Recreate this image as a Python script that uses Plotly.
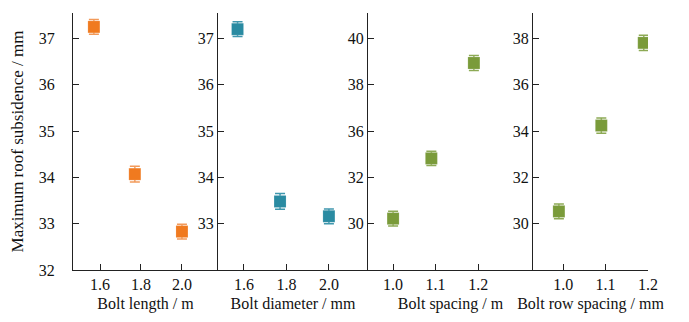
import plotly.graph_objects as go

# Bolt length panel
length_x = [1.57, 1.77, 2.0]
length_y = [37.25, 34.07, 32.83]
length_err = [0.16, 0.17, 0.16]

# Bolt diameter panel
diam_x = [1.57, 1.77, 2.0]
diam_y = [37.20, 33.48, 33.16]
diam_err = [0.16, 0.17, 0.16]

# Bolt spacing panel
spacing_x = [1.0, 1.09, 1.19]
spacing_y = [30.22, 32.82, 36.94]
spacing_err = [0.32, 0.31, 0.32]

# Bolt row spacing panel
row_x = [0.99, 1.09, 1.19]
row_y = [30.53, 34.24, 37.81]
row_err = [0.32, 0.33, 0.33]

# Tick labels
ticks_a = [32, 33, 34, 35, 36, 37]
ticks_b = [33, 34, 35, 36, 37]
ticks_c = [30, 32, 34, 36, 38]
ticktext_spacing = ["30", "32", "36", "38", "40"]
ticktext_row = ["30", "32", "34", "36", "38"]
xt_len = [1.6, 1.8, 2.0]
xt_sp = [1.0, 1.1, 1.2]

ORANGE = "#F07A1F"
ORANGE_E = "#F29A5A"
TEAL = "#2A8BA2"
TEAL_E = "#3F97AE"
GREEN = "#7A9B3A"
GREEN_E = "#8DAA55"

FONT = "Liberation Serif, Times New Roman, serif"

fig = go.Figure()


def add_panel(xs, ys, err, col, ecol, xa, ya):
    fig.add_trace(go.Scatter(
        x=xs, y=ys, mode="markers", xaxis=xa, yaxis=ya, showlegend=False,
        marker=dict(symbol="square", size=12, color=col,
                    line=dict(width=0.6, color="rgba(255,255,255,0.25)")),
        error_y=dict(type="data", array=err, visible=True, color=ecol,
                     thickness=1.5, width=5),
    ))


add_panel(length_x, length_y, length_err, ORANGE, ORANGE_E, "x", "y")
add_panel(diam_x, diam_y, diam_err, TEAL, TEAL_E, "x2", "y2")
add_panel(spacing_x, spacing_y, spacing_err, GREEN, GREEN_E, "x3", "y3")
add_panel(row_x, row_y, row_err, GREEN, GREEN_E, "x4", "y4")

W = 575.0
d1 = 145 / W
d2 = 295 / W
d3 = 460 / W

axis_common = dict(showline=True, linecolor="#222222", linewidth=1,
                   ticks="inside", ticklen=6, tickcolor="#222222",
                   showgrid=False, zeroline=False,
                   tickfont=dict(family=FONT, size=16, color="#111111"))

xt_title = dict(family=FONT, size=16, color="#111111")

fig.update_layout(
    width=689, height=322,
    margin=dict(l=73, r=41, t=13, b=52),
    paper_bgcolor="white", plot_bgcolor="white",
    font=dict(family=FONT, color="#111111"),
    xaxis=dict(domain=[0, d1], range=[1.468, 2.176], tickvals=xt_len,
               ticktext=["1.6", "1.8", "2.0"], anchor="y",
               title=dict(text="Bolt length / m", font=xt_title, standoff=5),
               **axis_common),
    xaxis2=dict(domain=[d1, d2], range=[1.478, 2.184], tickvals=xt_len,
                ticktext=["1.6", "1.8", "2.0"], anchor="y2",
                title=dict(text="Bolt diameter / mm", font=xt_title, standoff=5),
                **axis_common),
    xaxis3=dict(domain=[d2, d3], range=[0.941, 1.329], tickvals=xt_sp,
                ticktext=["1.0", "1.1", "1.2"], anchor="y3",
                title=dict(text="Bolt spacing / m", font=xt_title, standoff=5),
                **axis_common),
    xaxis4=dict(domain=[d3, 1], range=[0.929, 1.2], tickvals=xt_sp,
                ticktext=["1.0", "1.1", "1.2"], anchor="y4",
                title=dict(text="Bolt row spacing / mm", font=xt_title, standoff=5),
                **axis_common),
    yaxis=dict(domain=[0, 1], range=[32, 37.55], tickvals=ticks_a,
               anchor="x", ticklabelstandoff=14,
               title=dict(text="Maximum roof subsidence / mm",
                          font=dict(family=FONT, size=17, color="#111111"),
                          standoff=10),
               **axis_common),
    yaxis2=dict(domain=[0, 1], range=[32, 37.55], tickvals=ticks_b,
                anchor="x2", **axis_common),
    yaxis3=dict(domain=[0, 1], range=[28, 39.1], tickvals=ticks_c,
                ticktext=ticktext_spacing, anchor="x3", **axis_common),
    yaxis4=dict(domain=[0, 1], range=[28, 39.1], tickvals=ticks_c,
                ticktext=ticktext_row, anchor="x4", **axis_common),
)

fig.write_html("out.html")
